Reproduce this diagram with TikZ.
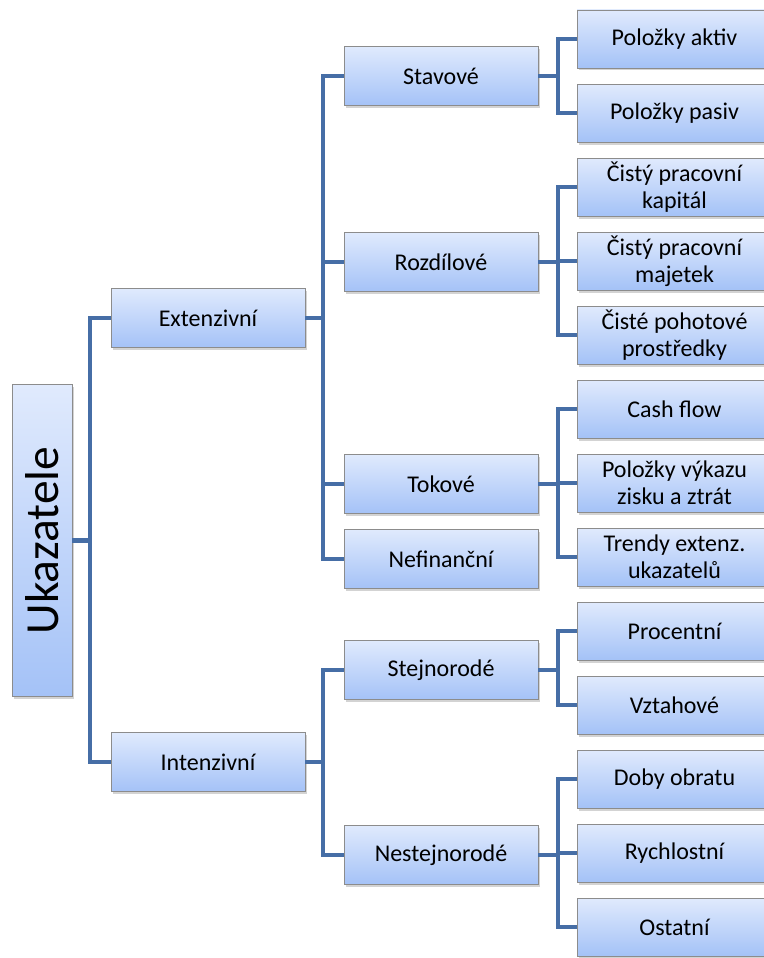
\documentclass[tikz,border=0pt]{standalone}
\usepackage{fontspec}
\setmainfont{Carlito}
\usetikzlibrary{shadows}
\definecolor{conncol}{RGB}{70,110,166}
\definecolor{boxtop}{RGB}{224,234,253}
\definecolor{boxbot}{RGB}{164,194,247}
\definecolor{boxline}{RGB}{140,140,140}
\tikzset{
  box/.style={draw=boxline, line width=0.8pt, top color=boxtop, bottom color=boxbot,
    drop shadow={opacity=0.35, shadow xshift=2pt, shadow yshift=-2.5pt},
    inner sep=0pt, align=center, font=\fontsize{24}{27}\selectfont},
  lvA/.style={box, minimum width=194pt, minimum height=59pt},
  lvB/.style={box, minimum width=194pt, minimum height=59pt},
  lvC/.style={box, minimum width=195pt, minimum height=58pt},
  conn/.style={draw=conncol, line width=4.5pt, line join=miter}
}
\begin{document}
\begin{tikzpicture}[x=1pt,y=-1pt]
\useasboundingbox (0,0) rectangle (763,958);
% root
\node[box, minimum width=60pt, minimum height=312pt] (root) at (42,540.5)
  {\rotatebox{90}{\fontsize{47.5}{52}\selectfont Ukazatele}};
% level 1
\node[lvA] (ext) at (208,318) {Extenzivní};
\node[lvA] (int) at (208,762) {Intenzivní};
% level 2
\node[lvB] (stav) at (441,76) {Stavové};
\node[lvB] (rozd) at (441,262) {Rozdílové};
\node[lvB] (tok) at (441,484) {Tokové};
\node[lvB] (nef) at (441,559) {Nefinanční};
\node[lvB] (stej) at (441,670) {Stejnorodé};
\node[lvB] (nest) at (441,855) {Nestejnorodé};
% level 3
\node[lvC] (aktiv) at (674.5,39) {Položky aktiv};
\node[lvC] (pasiv) at (674.5,113) {Položky pasiv};
\node[lvC] (kap) at (674.5,187) {Čistý pracovní\\kapitál};
\node[lvC] (maj) at (674.5,261) {Čistý pracovní\\majetek};
\node[lvC] (poh) at (674.5,335) {Čisté pohotové\\prostředky};
\node[lvC] (cash) at (674.5,409) {Cash flow};
\node[lvC] (vyk) at (674.5,483) {Položky výkazu\\zisku a ztrát};
\node[lvC] (trend) at (674.5,557) {Trendy extenz.\\ukazatelů};
\node[lvC] (proc) at (674.5,631) {Procentní};
\node[lvC] (vzt) at (674.5,705) {Vztahové};
\node[lvC] (doby) at (674.5,779) {Doby obratu};
\node[lvC] (rych) at (674.5,853) {Rychlostní};
\node[lvC] (ost) at (674.5,927) {Ostatní};
% junctions
\coordinate (j0) at (90,540.5);
\coordinate (j1) at (323,318);
\coordinate (j2) at (323,762);
\coordinate (j3) at (558,76);
\coordinate (j4) at (558,262);
\coordinate (j5) at (558,484);
\coordinate (j6) at (558,670);
\coordinate (j7) at (558,855);
% root
\draw[conn] (ext.west) -| (j0) |- (int.west);
\draw[conn] (root.east) -- (j0);
% extenzivni
\draw[conn] (stav.west) -| (j1) |- (nef.west);
\draw[conn] (ext.east) -- (j1);
\draw[conn] (rozd.west) -- (rozd.west -| j1);
\draw[conn] (tok.west) -- (tok.west -| j1);
% intenzivni
\draw[conn] (stej.west) -| (j2) |- (nest.west);
\draw[conn] (int.east) -- (j2);
% stavove
\draw[conn] (aktiv.west) -| (j3) |- (pasiv.west);
\draw[conn] (stav.east) -- (j3);
% rozdilove
\draw[conn] (kap.west) -| (j4) |- (poh.west);
\draw[conn] (rozd.east) -- (j4);
\draw[conn] (maj.west) -- (maj.west -| j4);
% tokove
\draw[conn] (cash.west) -| (j5) |- (trend.west);
\draw[conn] (tok.east) -- (j5);
\draw[conn] (vyk.west) -- (vyk.west -| j5);
% stejnorode
\draw[conn] (proc.west) -| (j6) |- (vzt.west);
\draw[conn] (stej.east) -- (j6);
% nestejnorode
\draw[conn] (doby.west) -| (j7) |- (ost.west);
\draw[conn] (nest.east) -- (j7);
\draw[conn] (rych.west) -- (rych.west -| j7);
\end{tikzpicture}
\end{document}
